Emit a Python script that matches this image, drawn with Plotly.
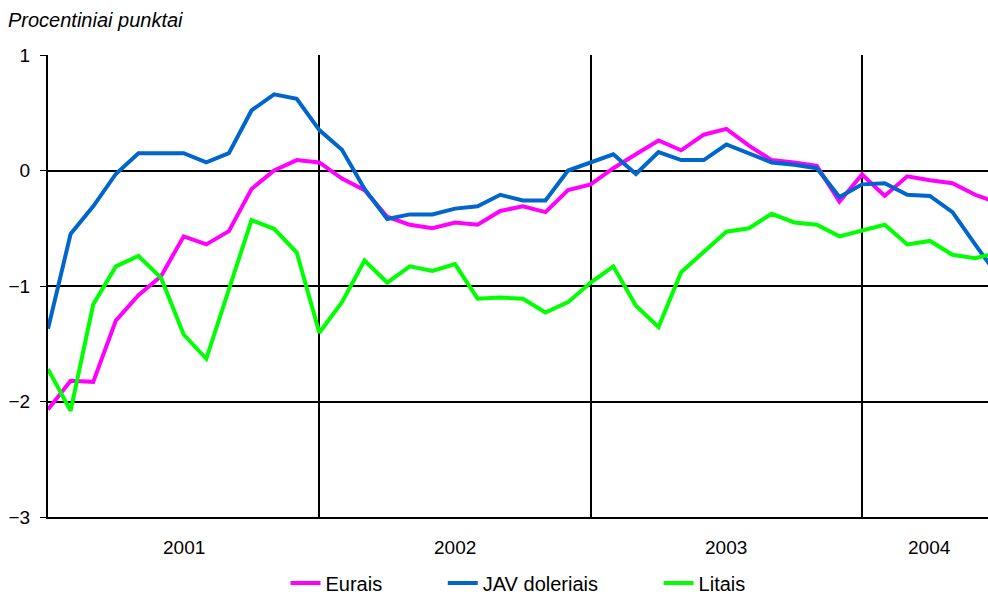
import plotly.graph_objects as go

# Monthly observations, Jan 2001 = index 0
months = list(range(43))

eurais = [-2.07, -1.82, -1.83, -1.30, -1.08, -0.915, -0.57, -0.64, -0.525, -0.16,
          0.00, 0.09, 0.07, -0.07, -0.17, -0.40, -0.47, -0.50, -0.45, -0.47,
          -0.35, -0.31, -0.36, -0.17, -0.12, 0.02, 0.14, 0.26, 0.175, 0.31,
          0.36, 0.215, 0.09, 0.07, 0.04, -0.27, -0.035, -0.22, -0.05, -0.085,
          -0.11, -0.21, -0.28]

jav = [-1.37, -0.55, -0.31, -0.03, 0.15, 0.15, 0.15, 0.07, 0.15, 0.52,
       0.66, 0.62, 0.35, 0.18, -0.16, -0.42, -0.38, -0.38, -0.33, -0.31,
       -0.21, -0.26, -0.26, 0.00, 0.07, 0.14, -0.03, 0.16, 0.09, 0.09,
       0.225, 0.15, 0.07, 0.05, 0.02, -0.23, -0.12, -0.11, -0.21, -0.22,
       -0.36, -0.64, -0.91]

litais = [-1.72, -2.08, -1.16, -0.83, -0.74, -0.93, -1.42, -1.63, -1.03, -0.43,
          -0.505, -0.71, -1.405, -1.14, -0.78, -0.97, -0.83, -0.87, -0.81, -1.11,
          -1.10, -1.11, -1.23, -1.14, -0.97, -0.83, -1.17, -1.355, -0.88, -0.71,
          -0.53, -0.50, -0.375, -0.45, -0.47, -0.57, -0.52, -0.47, -0.64, -0.61,
          -0.73, -0.76, -0.71]

series_names = ["Eurais", "JAV doleriais", "Litais"]
series_colors = ["#FF00FF", "#0066CC", "#00FF00"]

year_labels = ["2001", "2002", "2003", "2004"]
year_label_pos = [6, 18, 30, 39]
year_starts = [12, 24, 36]

FONT = "Liberation Sans, Arial, sans-serif"
PAD = "\u00a0" * 10

fig = go.Figure()
for k, (name, vals, col) in enumerate(zip(series_names, [eurais, jav, litais], series_colors)):
    label = name + (PAD if k < len(series_names) - 1 else "")
    fig.add_trace(go.Scatter(x=months, y=vals, mode="lines", name=label,
                             line=dict(color=col, width=4)))

for lab, pos in zip(year_labels, year_label_pos):
    fig.add_annotation(x=pos, y=0, xref="x", yref="paper", text=lab,
                       showarrow=False, yanchor="top", yshift=-18,
                       font=dict(family=FONT, size=19, color="black"))

fig.update_layout(
    width=988, height=594,
    margin=dict(l=48, r=0, t=55, b=77),
    paper_bgcolor="white", plot_bgcolor="white",
    font=dict(family=FONT, size=18, color="black"),
    title=dict(text="<i>Procentiniai punktai</i>", x=8/988, xanchor="left",
               y=1-20/594, yanchor="middle", xref="container", yref="container",
               font=dict(family=FONT, size=20, color="black")),
    showlegend=True,
    legend=dict(orientation="h", x=0.5, xanchor="center", y=1-583/594,
                yanchor="middle", yref="container",
                font=dict(family=FONT, size=20, color="black"),
                tracegroupgap=0),
    xaxis=dict(range=[0, 41.57], tickvals=year_starts, showticklabels=False,
               showgrid=True, gridcolor="black", gridwidth=2, ticks="",
               zeroline=False, showline=True, linecolor="black", linewidth=2),
    yaxis=dict(range=[-3, 1], dtick=1, tick0=0, showgrid=True, gridcolor="black",
               gridwidth=2, zeroline=False, ticks="outside", ticklen=6,
               tickcolor="black", tickwidth=1, showline=True, linecolor="black",
               linewidth=2, tickfont=dict(family=FONT, size=19), ticklabelstandoff=6),
)

fig.write_html("out.html", config={"displayModeBar": False},
               post_script="document.body.style.margin='0px';")
